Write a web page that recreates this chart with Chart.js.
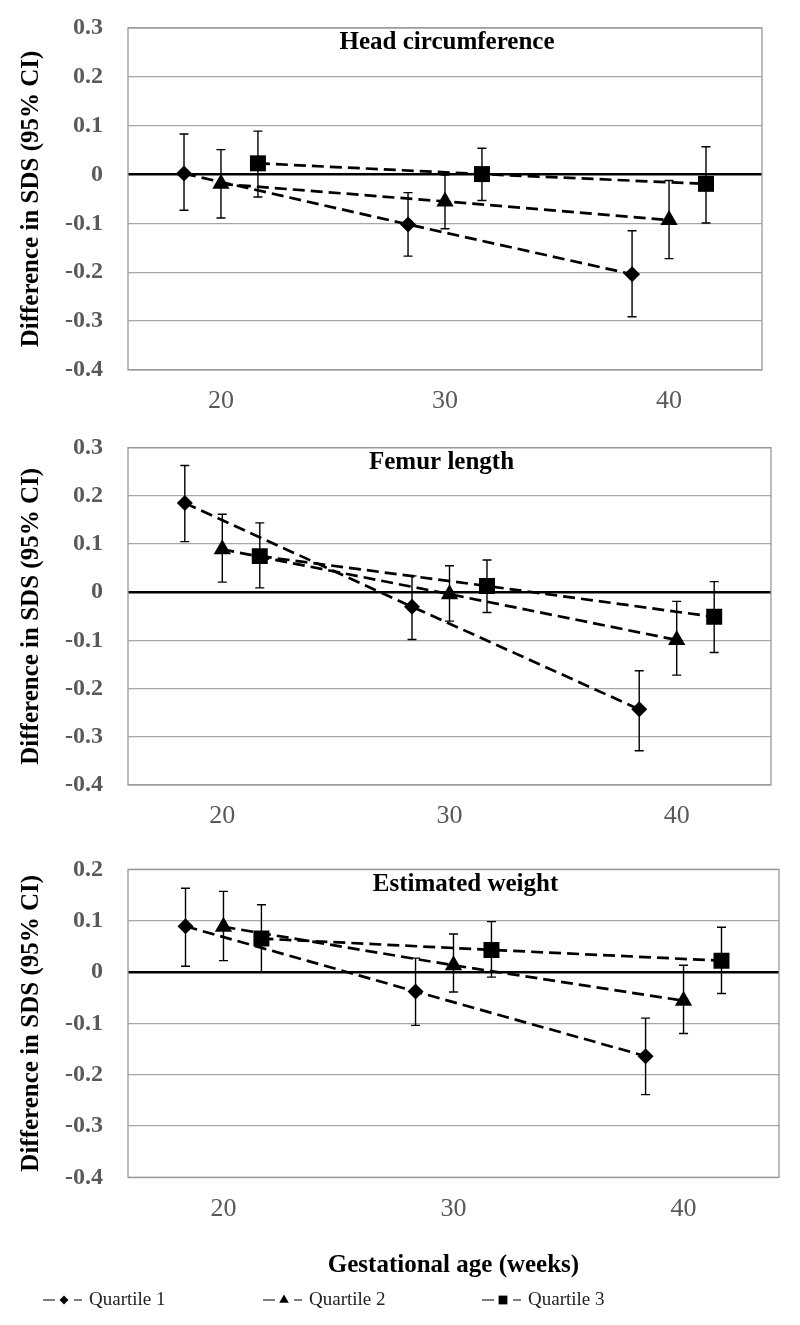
<!DOCTYPE html>
<html>
<head>
<meta charset="utf-8">
<script src="https://cdn.jsdelivr.net/npm/chart.js@4.4.0/dist/chart.umd.min.js"></script>
<style>
html, body { margin: 0; padding: 0; background: #fff; }
#wrap { position: relative; width: 800px; height: 1325px; }
canvas { position: absolute; left: 0; }
</style>
</head>
<body>
<div id="wrap">
  <canvas id="c1" width="800" height="420" style="top:0px"></canvas>
  <canvas id="c2" width="800" height="420" style="top:420px"></canvas>
  <canvas id="c3" width="800" height="485" style="top:840px"></canvas>
</div>
<script>
// gestational age (weeks) of each quartile's point, per trimester
var q1Age = [18.35, 28.35, 38.35];
var q2Age = [20, 30, 40];
var q3Age = [21.65, 31.65, 41.65];
var xTickValues = [20, 30, 40];
var quartileLabels = ["Quartile 1", "Quartile 2", "Quartile 3"];

// Head circumference
var hcQ1 = [0.002, -0.102, -0.204];
var hcQ1Lo = [-0.073, -0.167, -0.291];
var hcQ1Hi = [0.083, -0.037, -0.115];
var hcQ2 = [-0.019, -0.055, -0.093];
var hcQ2Lo = [-0.089, -0.111, -0.172];
var hcQ2Hi = [0.051, -0.001, -0.012];
var hcQ3 = [0.023, 0.001, -0.019];
var hcQ3Lo = [-0.046, -0.053, -0.099];
var hcQ3Hi = [0.089, 0.054, 0.057];

// Femur length
var flQ1 = [0.185, -0.030, -0.243];
var flQ1Lo = [0.105, -0.098, -0.329];
var flQ1Hi = [0.263, 0.034, -0.163];
var flQ2 = [0.089, -0.004, -0.099];
var flQ2Lo = [0.021, -0.060, -0.172];
var flQ2Hi = [0.162, 0.055, -0.019];
var flQ3 = [0.075, 0.013, -0.051];
var flQ3Lo = [0.009, -0.042, -0.125];
var flQ3Hi = [0.144, 0.067, 0.022];

// Estimated weight
var ewQ1 = [0.089, -0.038, -0.164];
var ewQ1Lo = [0.011, -0.104, -0.239];
var ewQ1Hi = [0.163, 0.027, -0.090];
var ewQ2 = [0.088, 0.013, -0.056];
var ewQ2Lo = [0.022, -0.039, -0.120];
var ewQ2Hi = [0.157, 0.074, 0.013];
var ewQ3 = [0.065, 0.043, 0.022];
var ewQ3Lo = [0.000, -0.010, -0.042];
var ewQ3Hi = [0.131, 0.098, 0.087];

var SERIF = '"Liberation Serif", "Times New Roman", serif';

function pts(xs, ys) {
  return xs.map(function(x, i) { return {x: x, y: ys[i]}; });
}

function ds(label, xs, ys, lo, hi, style, r) {
  return {
    label: label,
    data: pts(xs, ys),
    lo: lo, hi: hi,
    borderColor: '#000',
    borderWidth: 2.7,
    borderDash: [12, 6],
    tension: 0,
    fill: false,
    pointStyle: style,
    pointRadius: r,
    pointBackgroundColor: '#000',
    pointBorderColor: '#000',
    pointBorderWidth: 0
  };
}

// error bars, drawn under the lines and markers
var errorBars = {
  id: 'errorBars',
  beforeDatasetsDraw: function(chart) {
    var ctx = chart.ctx, xs = chart.scales.x, ys = chart.scales.y;
    ctx.save();
    ctx.strokeStyle = '#000';
    ctx.lineWidth = 1.4;
    chart.data.datasets.forEach(function(d) {
      d.data.forEach(function(p, i) {
        var x = xs.getPixelForValue(p.x);
        var yl = ys.getPixelForValue(d.lo[i]);
        var yh = ys.getPixelForValue(d.hi[i]);
        ctx.beginPath();
        ctx.moveTo(x, yh); ctx.lineTo(x, yl);
        ctx.moveTo(x - 4.5, yh); ctx.lineTo(x + 4.5, yh);
        ctx.moveTo(x - 4.5, yl); ctx.lineTo(x + 4.5, yl);
        ctx.stroke();
      });
    });
    // plot frame
    var a = chart.chartArea;
    ctx.strokeStyle = '#999';
    ctx.lineWidth = 1.3;
    ctx.strokeRect(a.left, a.top, a.right - a.left, a.bottom - a.top);
    ctx.restore();
  }
};

var panelTitle = {
  id: 'panelTitle',
  afterDraw: function(chart, args, opts) {
    if (!opts.text) return;
    var ctx = chart.ctx, a = chart.chartArea;
    ctx.save();
    ctx.font = 'bold 25px ' + SERIF;
    ctx.fillStyle = '#000';
    ctx.textAlign = 'center';
    ctx.textBaseline = 'middle';
    ctx.fillText(opts.text, (a.left + a.right) / 2 + (opts.dx || 0), a.top + 15);
    ctx.restore();
  }
};

var lineLegend = {
  id: 'lineLegend',
  afterDraw: function(chart, args, opts) {
    if (!opts.starts) return;
    var ctx = chart.ctx;
    chart.data.datasets.forEach(function(d, i) {
      var x0 = opts.starts[i], y = opts.y;
      ctx.save();
      ctx.strokeStyle = '#000';
      ctx.lineWidth = 1.2;
      ctx.beginPath();
      ctx.moveTo(x0, y); ctx.lineTo(x0 + 12, y);
      ctx.moveTo(x0 + 31, y); ctx.lineTo(x0 + 39, y);
      ctx.stroke();
      ctx.fillStyle = '#000';
      ctx.strokeStyle = '#000';
      Chart.helpers.drawPoint(ctx, {pointStyle: d.pointStyle, radius: d.pointRadius * 0.55, rotation: 0, borderWidth: 0}, x0 + 21, y);
      ctx.font = '19px ' + SERIF;
      ctx.fillStyle = '#222';
      ctx.textAlign = 'left';
      ctx.textBaseline = 'middle';
      ctx.fillText(d.label, x0 + 46, y);
      ctx.restore();
    });
  }
};

function makeChart(id, title, sets, yMin, yMax, padTop, padRight, padBottom, xAxisH, xTitle, legendOpts, titleDx) {
  return new Chart(document.getElementById(id), {
    type: 'line',
    data: { datasets: sets },
    plugins: [errorBars, panelTitle, lineLegend],
    options: {
      responsive: false,
      animation: false,
      layout: { padding: { top: padTop, right: padRight, bottom: padBottom, left: 0 } },
      plugins: {
        legend: { display: false },
        tooltip: { enabled: false },
        panelTitle: { text: title, dx: titleDx },
        lineLegend: legendOpts || {}
      },
      scales: {
        x: {
          type: 'linear',
          min: 15.85,
          max: 44.15,
          afterBuildTicks: function(s) {
            s.ticks = xTickValues.map(function(v) { return {value: v}; });
          },
          afterFit: function(s) {
            s.height = xAxisH;
            s.paddingLeft = 0; s.paddingRight = 0;
          },
          grid: { display: false, drawTicks: false },
          border: { display: false },
          ticks: {
            padding: 16,
            color: '#595959',
            font: { family: SERIF, size: 26 },
            maxRotation: 0,
            callback: function(v) { return String(v); }
          },
          title: {
            display: !!xTitle,
            text: xTitle || '',
            color: '#000',
            font: { family: SERIF, size: 25, weight: 'bold' },
            padding: { top: 0, bottom: 4 }
          }
        },
        y: {
          min: yMin,
          max: yMax,
          afterFit: function(s) {
            s.width = 128;
            s.paddingTop = 0; s.paddingBottom = 0;
          },
          ticks: {
            stepSize: 0.1,
            padding: 25,
            color: '#595959',
            font: { family: SERIF, size: 24, weight: 'bold' },
            callback: function(v) { return String(Number(v.toFixed(1))); }
          },
          grid: {
            drawTicks: false,
            color: function(c) { return Math.abs(c.tick.value) < 1e-9 ? '#000' : '#a6a6a6'; },
            lineWidth: function(c) { return Math.abs(c.tick.value) < 1e-9 ? 2.5 : 1.3; }
          },
          border: { display: false },
          title: {
            display: true,
            text: 'Difference in SDS (95% CI)',
            color: '#000',
            font: { family: SERIF, size: 25, weight: 'bold' },
            padding: { top: 17, bottom: 0 }
          }
        }
      }
    }
  });
}

makeChart('c1', 'Head circumference', [
  ds(quartileLabels[0], q1Age, hcQ1, hcQ1Lo, hcQ1Hi, 'rectRot', 8),
  ds(quartileLabels[1], q2Age, hcQ2, hcQ2Lo, hcQ2Hi, 'triangle', 10),
  ds(quartileLabels[2], q3Age, hcQ3, hcQ3Lo, hcQ3Hi, 'rect', 11.3)
], -0.4, 0.3, 28, 38, 0, 50, null, null, 2);

makeChart('c2', 'Femur length', [
  ds(quartileLabels[0], q1Age, flQ1, flQ1Lo, flQ1Hi, 'rectRot', 8),
  ds(quartileLabels[1], q2Age, flQ2, flQ2Lo, flQ2Hi, 'triangle', 10),
  ds(quartileLabels[2], q3Age, flQ3, flQ3Lo, flQ3Hi, 'rect', 11.3)
], -0.4, 0.3, 27.7, 29, 0, 55, null, null, -8);

makeChart('c3', 'Estimated weight', [
  ds(quartileLabels[0], q1Age, ewQ1, ewQ1Lo, ewQ1Hi, 'rectRot', 8),
  ds(quartileLabels[1], q2Age, ewQ2, ewQ2Lo, ewQ2Hi, 'triangle', 10),
  ds(quartileLabels[2], q3Age, ewQ3, ewQ3Lo, ewQ3Hi, 'rect', 11.3)
], -0.4, 0.2, 29.3, 21, 40, 107.7, 'Gestational age (weeks)', { starts: [43, 263, 482], y: 460 }, 12);
</script>
</body>
</html>
